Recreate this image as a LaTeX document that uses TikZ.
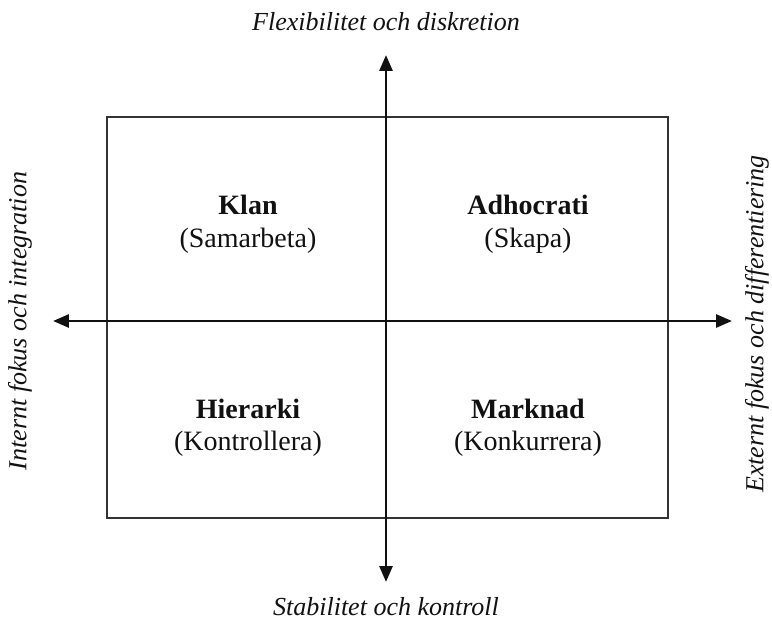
\documentclass[tikz,border=0pt]{standalone}
\usepackage{fontspec}
\setmainfont{Liberation Serif}
\usetikzlibrary{arrows.meta,positioning}
\definecolor{ink}{HTML}{111111}
\definecolor{framegray}{HTML}{333333}
\tikzset{
  axisarr/.style={-{Triangle[length=4.2mm,width=3.4mm]},line width=2.2pt,draw=ink},
  frame/.style={draw=framegray,line width=1.4pt},
  quadname/.style={font=\fontsize{21}{24}\selectfont\bfseries,text=ink,inner sep=1pt},
  quadverb/.style={font=\fontsize{21}{24}\selectfont,text=ink,inner sep=1pt},
  axislabel/.style={font=\fontsize{19.5}{23}\selectfont\itshape,text=ink,inner sep=1pt}
}
\begin{document}
\begin{tikzpicture}[x=0.75pt,y=-0.75pt]
    \path[use as bounding box,fill=white] (0,0) rectangle (772,630);

    \draw[frame] (107,117) rectangle (668,518);

    \coordinate (centre) at (386,321);
    \coordinate (north) at (386,55);
    \coordinate (south) at (386,582);
    \coordinate (west) at (53,321);
    \coordinate (east) at (732,321);
    \draw[axisarr] (centre) -- (north);
    \draw[axisarr] (centre) -- (south);
    \draw[axisarr] (centre) -- (west);
    \draw[axisarr] (centre) -- (east);

    \node[axislabel] (flex) at (386,22) {Flexibilitet och diskretion};
    \node[axislabel] (stab) at (386,607) {Stabilitet och kontroll};
    \node[axislabel,rotate=90] (intern) at (20,321) {Internt fokus och integration};
    \node[axislabel,rotate=90] (extern) at (757,324) {Externt fokus och differentiering};

    \node[quadname] (klan) at (248,205) {Klan};
    \node[quadname] (adho) at (528,205) {Adhocrati};
    \node[quadname] (hier) at (248,409) {Hierarki};
    \node[quadname] (mark) at (528,409) {Marknad};
    \node[quadverb] (klanv) at (248,241) {(Samarbeta)};
    \node[quadverb] (adhov) at (528,241) {(Skapa)};
    \node[quadverb] (hierv) at (248,444) {(Kontrollera)};
    \node[quadverb] (markv) at (528,444) {(Konkurrera)};
  \end{tikzpicture}
\end{document}
